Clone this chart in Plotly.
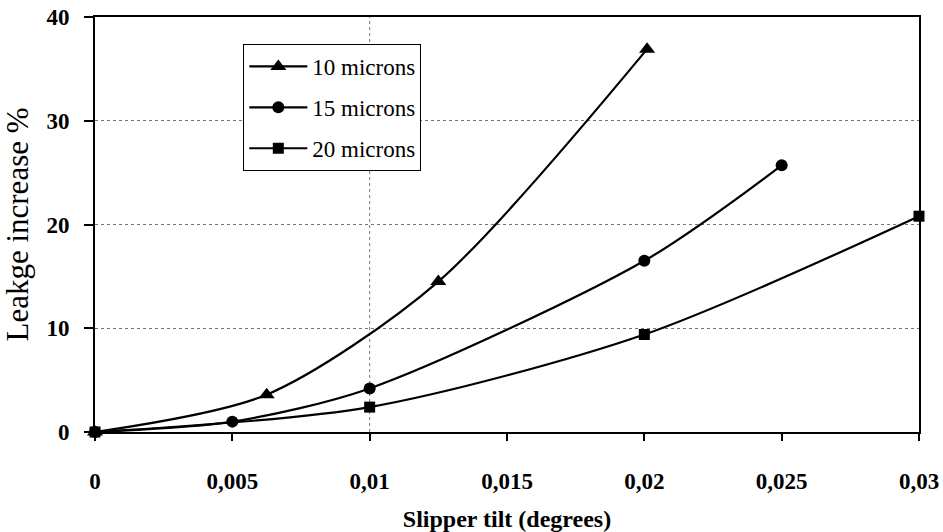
import plotly.graph_objects as go

# slipper tilt (degrees) and leakage increase (%) per film thickness
tilt_10 = [0, 0.00625, 0.0125, 0.0201]
leak_10 = [0, 3.6, 14.5, 36.9]

tilt_15 = [0, 0.005, 0.01, 0.02, 0.025]
leak_15 = [0, 1.0, 4.2, 16.5, 25.7]

tilt_20 = [0, 0.01, 0.02, 0.03]
leak_20 = [0, 2.4, 9.4, 20.8]

x_ticks = [0, 0.005, 0.01, 0.015, 0.02, 0.025, 0.03]
x_labels = ["0", "0,005", "0,01", "0,015", "0,02", "0,025", "0,03"]
y_ticks = [0, 10, 20, 30, 40]

FONT = "Liberation Serif, Times New Roman, serif"

fig = go.Figure()

series = [
    ("10 microns", tilt_10, leak_10, "triangle-up", 14),
    ("15 microns", tilt_15, leak_15, "circle", 12),
    ("20 microns", tilt_20, leak_20, "square", 11),
]
for name, xs, ys, sym, size in series:
    fig.add_trace(go.Scatter(
        x=xs, y=ys, name=name, legendgroup=name, mode="lines+markers",
        line=dict(color="black", width=2.2, shape="spline", smoothing=0.8),
        marker=dict(symbol=sym, size=size, color="black"),
        cliponaxis=False,
    ))

# vertical dotted grid line is only visible at 0.01
fig.add_shape(type="line", xref="x", yref="paper", x0=0.01, x1=0.01, y0=0, y1=1,
              line=dict(color="#777", width=1, dash="dot"), layer="below")

fig.update_layout(
    width=943, height=532,
    margin=dict(l=95, r=24, t=17, b=100),
    plot_bgcolor="white", paper_bgcolor="white",
    font=dict(family=FONT, size=22, color="black"),
    showlegend=True,
    legend=dict(
        x=0.18, y=0.935, xanchor="left", yanchor="top",
        bordercolor="black", borderwidth=1, bgcolor="white",
        font=dict(family=FONT, size=23, color="black"),
        itemwidth=58, traceorder="grouped", tracegroupgap=8,
    ),
    xaxis=dict(
        range=[0, 0.03], tickvals=x_ticks, ticktext=x_labels,
        showgrid=False, zeroline=False, automargin=False,
        showline=True, linecolor="black", linewidth=2, mirror=True,
        ticks="outside", ticklen=7, tickcolor="black", tickwidth=1.5,
        ticklabelstandoff=20,
        tickfont=dict(family=FONT, size=23, color="black", weight="bold"),
        title=dict(text="Slipper tilt (degrees)", standoff=20,
                   font=dict(family=FONT, size=24, color="black", weight="bold")),
    ),
    yaxis=dict(
        range=[0, 40], tickvals=y_ticks,
        showgrid=True, gridcolor="#777", griddash="dot", gridwidth=1,
        zeroline=False, automargin=False,
        showline=True, linecolor="black", linewidth=2, mirror=True,
        ticks="outside", ticklen=9, tickcolor="black", tickwidth=1.5,
        ticklabelstandoff=10,
        tickfont=dict(family=FONT, size=23, color="black", weight="bold"),
        title=dict(text="Leakge increase %", standoff=12,
                   font=dict(family=FONT, size=31, color="black")),
    ),
)

fig.write_html("out.html", config={"displayModeBar": False},
               post_script="document.body.style.margin='0';")
